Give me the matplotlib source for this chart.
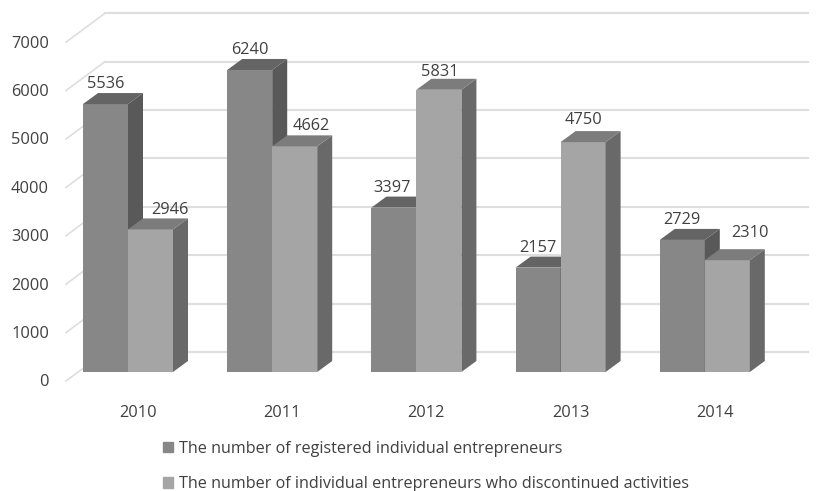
import matplotlib
matplotlib.use('Agg')
from matplotlib import pyplot as plt
from matplotlib.patches import Patch

years = ['2010', '2011', '2012', '2013', '2014']
registered = [5536, 6240, 3397, 2157, 2729]
discontinued = [2946, 4662, 5831, 4750, 2310]
y_ticks = [0, 1000, 2000, 3000, 4000, 5000, 6000, 7000]
legend_labels = ['The number of registered individual entrepreneurs',
                 'The number of individual entrepreneurs who discontinued activities']

# pixel scale of the picture, the axes fill the whole figure
PX_X = 144.2   # px per category
PX_Y = 0.0484  # px per unit
BASE_X = 128
BASE_Y = 372
W, H = 816, 491


def dx(px):
    return px / PX_X


def dy(px):
    return px / PX_Y


BAR_W = dx(45)
DEPTH_X = dx(15)
DEPTH_Y = dy(11)
TEXT = '#404040'
FONT = 11.8

# label nudges in px, (x, y) from the middle of the bar top
reg_nudge = [(0, 20), (0, 20), (-2, 20), (0, 20), (0, 20)]
dis_nudge = [(19, 19), (17, 20), (1, 18), (0, 22), (23, 27)]

plt.rcParams['font.family'] = ['Open Sans', 'DejaVu Sans']

fig = plt.figure(figsize=(W / 100, H / 100), dpi=100)
ax = fig.add_axes([0, 0, 1, 1])
ax.set_xlim(-BASE_X / PX_X, (W - BASE_X) / PX_X)
ax.set_ylim((BASE_Y - H) / PX_Y, BASE_Y / PX_Y)
ax.axis('off')


def draw_bar(x, value, front, side, top, z):
    ax.bar(x, value, width=BAR_W, align='edge', color=front, zorder=z)
    ax.fill([x + BAR_W, x + BAR_W + DEPTH_X, x + BAR_W + DEPTH_X, x + BAR_W],
            [0, DEPTH_Y, value + DEPTH_Y, value], color=side, lw=0, zorder=z)
    ax.fill([x, x + DEPTH_X, x + BAR_W + DEPTH_X, x + BAR_W],
            [value, value + DEPTH_Y, value + DEPTH_Y, value], color=top, lw=0, zorder=z)


# back wall and the slanted floor/side lines
for t in y_ticks:
    ax.plot([dx(-23), dx(680)], [t + dy(20), t + dy(20)], color='#dedede', lw=1.5, zorder=1)
    ax.plot([dx(-62), dx(-23)], [t - dy(9), t + dy(20)], color='#dedede', lw=1.2, zorder=1)
    ax.text(dx(-79), t - dy(10.5), str(t), ha='right', va='center', fontsize=FONT, color=TEXT)

for i, year in enumerate(years):
    draw_bar(i - BAR_W, registered[i], '#878787', '#595959', '#646464', 2 + i)
    draw_bar(i, discontinued[i], '#a5a5a5', '#696969', '#7c7c7c', 2 + i)
    ax.text(i - BAR_W / 2 + dx(reg_nudge[i][0]), registered[i] + dy(reg_nudge[i][1]),
            str(registered[i]), ha='center', va='center', fontsize=FONT, color=TEXT, zorder=20)
    ax.text(i + BAR_W / 2 + dx(dis_nudge[i][0]), discontinued[i] + dy(dis_nudge[i][1]),
            str(discontinued[i]), ha='center', va='center', fontsize=FONT, color=TEXT, zorder=20)
    ax.text(i + dx(10), dy(-41), year, ha='center', va='center', fontsize=FONT, color=TEXT)

handles = [Patch(color='#878787'), Patch(color='#a5a5a5')]
ax.legend(handles, legend_labels, loc='lower left', bbox_to_anchor=(158 / W, -0.012),
          frameon=False, fontsize=11.6, labelcolor=TEXT, handlelength=0.65, handleheight=0.65,
          handletextpad=0.35, labelspacing=1.2, borderaxespad=0, borderpad=0.3)

fig.savefig('out.png', dpi=100)
